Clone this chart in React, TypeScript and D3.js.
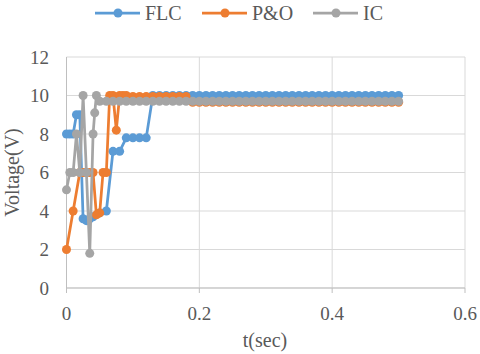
import React from "react";
import * as d3 from "d3";

const seriesNames = ["FLC", "P&O", "IC"];
const seriesColors = ["#5B9BD5", "#ED7D31", "#A5A5A5"];

const flcT = [0, 0.005, 0.01, 0.015, 0.02, 0.025, 0.03, 0.035, 0.04, 0.05, 0.06, 0.07, 0.08, 0.09, 0.1, 0.11, 0.12,
  0.13, 0.14, 0.15, 0.16, 0.17, 0.18, 0.19, 0.2, 0.21, 0.22, 0.23, 0.24, 0.25, 0.26, 0.27, 0.28, 0.29, 0.3,
  0.31, 0.32, 0.33, 0.34, 0.35, 0.36, 0.37, 0.38, 0.39, 0.4, 0.41, 0.42, 0.43, 0.44, 0.45, 0.46, 0.47, 0.48, 0.49, 0.5];
const flcV = [8, 8, 8, 9, 9, 3.6, 3.5, 3.6, 3.7, 3.9, 4.0, 7.1, 7.1, 7.8, 7.8, 7.8, 7.8,
  10, 10, 10, 10, 10, 10, 10, 10, 10, 10, 10, 10, 10, 10, 10, 10, 10, 10,
  10, 10, 10, 10, 10, 10, 10, 10, 10, 10, 10, 10, 10, 10, 10, 10, 10, 10, 10, 10];

const poT = [0, 0.01, 0.02, 0.025, 0.03, 0.035, 0.04, 0.045, 0.05, 0.055, 0.06, 0.065, 0.07, 0.075, 0.08, 0.085, 0.09,
  0.1, 0.11, 0.12, 0.13, 0.14, 0.15, 0.16, 0.17, 0.18, 0.19, 0.2, 0.21, 0.22, 0.23, 0.24, 0.25, 0.26, 0.27, 0.28, 0.29, 0.3,
  0.31, 0.32, 0.33, 0.34, 0.35, 0.36, 0.37, 0.38, 0.39, 0.4, 0.41, 0.42, 0.43, 0.44, 0.45, 0.46, 0.47, 0.48, 0.49, 0.5];
const poV = [2, 4, 6, 6, 6, 6, 6, 3.8, 3.9, 6, 6, 10, 10, 8.2, 10, 10, 10,
  9.95, 9.95, 9.95, 9.95, 9.95, 9.95, 9.95, 9.95, 9.95, 9.65, 9.65, 9.65, 9.65, 9.65, 9.65, 9.65, 9.65, 9.65, 9.65, 9.65, 9.65,
  9.65, 9.65, 9.65, 9.65, 9.65, 9.65, 9.65, 9.65, 9.65, 9.65, 9.65, 9.65, 9.65, 9.65, 9.65, 9.65, 9.65, 9.65, 9.65, 9.65];

const icT = [0, 0.005, 0.01, 0.015, 0.02, 0.025, 0.03, 0.035, 0.04, 0.0425, 0.045,
  0.05, 0.06, 0.07, 0.08, 0.09, 0.1, 0.11, 0.12, 0.13, 0.14, 0.15, 0.16, 0.17, 0.18, 0.19, 0.2, 0.21, 0.22, 0.23, 0.24, 0.25,
  0.26, 0.27, 0.28, 0.29, 0.3, 0.31, 0.32, 0.33, 0.34, 0.35, 0.36, 0.37, 0.38, 0.39, 0.4, 0.41, 0.42, 0.43, 0.44, 0.45,
  0.46, 0.47, 0.48, 0.49, 0.5];
const icV = [5.1, 6, 6, 8, 6, 10, 6, 1.8, 8, 9.1, 10,
  9.7, 9.7, 9.7, 9.7, 9.7, 9.7, 9.7, 9.7, 9.7, 9.7, 9.7, 9.7, 9.7, 9.7, 9.7, 9.7, 9.7, 9.7, 9.7, 9.7, 9.7,
  9.7, 9.7, 9.7, 9.7, 9.7, 9.7, 9.7, 9.7, 9.7, 9.7, 9.7, 9.7, 9.7, 9.7, 9.7, 9.7, 9.7, 9.7, 9.7, 9.7,
  9.7, 9.7, 9.7, 9.7, 9.7];

const xTicks = [0, 0.2, 0.4, 0.6];
const yTicks = [0, 2, 4, 6, 8, 10, 12];

const W = 480;
const H = 354;
const FONT = "'Liberation Serif', 'Times New Roman', serif";
const TEXT = "#595959";

export default function App() {
  const x = d3.scaleLinear().domain([0, 0.6]).range([66.5, 465]);
  const y = d3.scaleLinear().domain([0, 12]).range([288, 57]);
  const series = [
    { t: flcT, v: flcV },
    { t: poT, v: poV },
    { t: icT, v: icV },
  ];
  const line = d3
    .line<[number, number]>()
    .x((d) => x(d[0]))
    .y((d) => y(d[1]));

  const legendItems = [
    { lx: 95, tx: 145 },
    { lx: 202, tx: 252 },
    { lx: 313, tx: 363 },
  ];

  return (
    <div style={{ position: "absolute", left: 0, top: 0 }}>
      <svg width={W} height={H} style={{ display: "block", background: "#fff" }}>
        {yTicks.map((v) => (
          <line key={"gy" + v} x1={x(0)} x2={x(0.6)} y1={y(v)} y2={y(v)} stroke="#D9D9D9" strokeWidth={1} />
        ))}
        {xTicks.slice(1).map((v) => (
          <line key={"gx" + v} x1={x(v)} x2={x(v)} y1={y(0)} y2={y(12)} stroke="#D9D9D9" strokeWidth={1} />
        ))}
        <line x1={x(0)} x2={x(0)} y1={y(0)} y2={y(12)} stroke="#BFBFBF" strokeWidth={1} />
        <line x1={x(0)} x2={x(0.6)} y1={y(0)} y2={y(0)} stroke="#BFBFBF" strokeWidth={1} />
        {xTicks.map((v) => (
          <line key={"tx" + v} x1={x(v)} x2={x(v)} y1={y(0)} y2={y(0) + 5} stroke="#BFBFBF" strokeWidth={1} />
        ))}
        {yTicks.map((v) => (
          <text key={"ly" + v} x={49} y={y(v)} dy="0.35em" textAnchor="end" fontFamily={FONT} fontSize={19} fill={TEXT}>
            {v}
          </text>
        ))}
        {xTicks.map((v) => (
          <text key={"lx" + v} x={x(v)} y={320} textAnchor="middle" fontFamily={FONT} fontSize={19} fill={TEXT}>
            {v === 0 ? "0" : d3.format(".1f")(v)}
          </text>
        ))}
        <text x={265} y={347} textAnchor="middle" fontFamily={FONT} fontSize={20} fill={TEXT}>
          t(sec)
        </text>
        <text
          transform={`translate(19, ${y(6)}) rotate(-90)`}
          textAnchor="middle"
          fontFamily={FONT}
          fontSize={20}
          fill={TEXT}
        >
          Voltage(V)
        </text>
        {series.map((s, i) => {
          const pts = s.t.map((t, j) => [t, s.v[j]] as [number, number]);
          return (
            <g key={"s" + i}>
              <path d={line(pts) || ""} fill="none" stroke={seriesColors[i]} strokeWidth={2.75} strokeLinejoin="round" />
              {pts.map((p, j) => (
                <circle key={j} cx={x(p[0])} cy={y(p[1])} r={4.5} fill={seriesColors[i]} />
              ))}
            </g>
          );
        })}
        {legendItems.map((it, i) => (
          <g key={"lg" + i}>
            <line x1={it.lx} x2={it.lx + 45} y1={13} y2={13} stroke={seriesColors[i]} strokeWidth={2.75} />
            <circle cx={it.lx + 23} cy={13} r={4.5} fill={seriesColors[i]} />
            <text x={it.tx} y={13} dy="0.35em" fontFamily={FONT} fontSize={20} fill={TEXT}>
              {seriesNames[i]}
            </text>
          </g>
        ))}
      </svg>
    </div>
  );
}
